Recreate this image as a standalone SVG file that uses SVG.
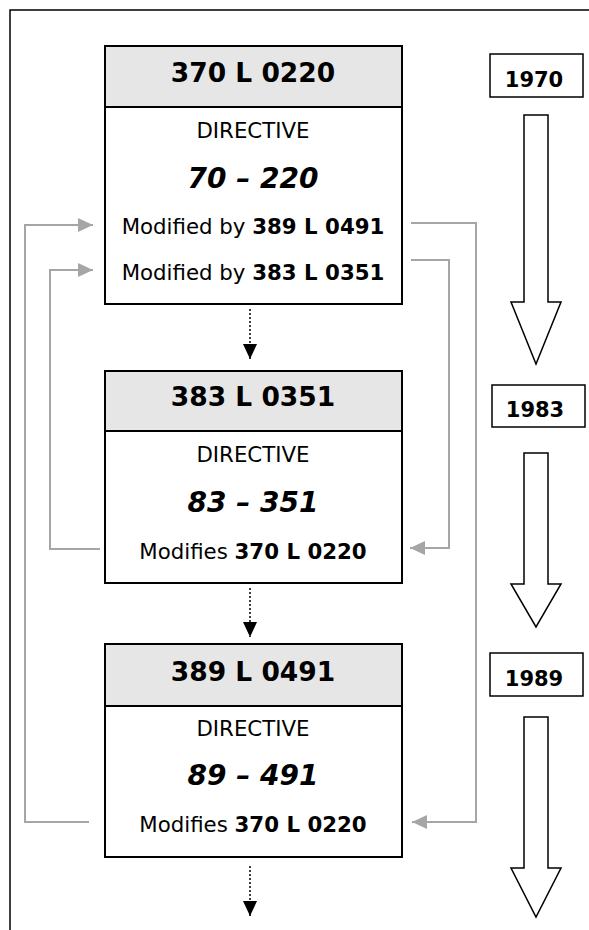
<svg xmlns="http://www.w3.org/2000/svg" width="589" height="930" viewBox="0 0 589 930">
<defs>
<style>
text{font-family:"DejaVu Sans","Verdana","Liberation Sans",sans-serif;fill:#000;text-anchor:middle}
.box{fill:#fff;stroke:#000;stroke-width:2}
.hdr{fill:#e6e6e6;stroke:#000;stroke-width:2}
.title{font-size:26.5px;font-weight:bold}
.lbl{font-size:21.3px}
.num{font-size:28px;font-weight:bold;font-style:italic}
.b{font-weight:bold}
.year{font-size:21px;font-weight:bold}
.ybox{fill:#fff;stroke:#000;stroke-width:1.5}
.blk{fill:#fff;stroke:#000;stroke-width:1.5;stroke-linejoin:miter}
.dot{fill:none;stroke:#000;stroke-width:1.5;stroke-dasharray:2 2;marker-end:url(#blackHead)}
.greyA{fill:none;stroke:#a6a6a6;stroke-width:2;marker-end:url(#greyHead)}
</style>
<marker id="blackHead" markerUnits="userSpaceOnUse" markerWidth="15" markerHeight="14" refX="15" refY="7" orient="auto" viewBox="0 0 15 14">
<path d="M0,0 L15,7 L0,14 z" fill="#000"/>
</marker>
<marker id="greyHead" markerUnits="userSpaceOnUse" markerWidth="15" markerHeight="14" refX="15" refY="7" orient="auto" viewBox="0 0 15 14">
<path d="M0,0 L15,7 L0,14 z" fill="#a6a6a6"/>
</marker>
</defs>
<rect width="589" height="930" fill="#fff"/>
<g id="frame">
<path d="M10,930 L10,10 L589,10" fill="none" stroke="#000" stroke-width="1.5"/>
</g>
<g id="connectors">
<path class="dot" d="M250,309 L250,359"/>
<path class="dot" d="M250,588 L250,637"/>
<path class="dot" d="M250,866 L250,916"/>
<path class="greyA" d="M411,223 L476,223 L476,822 L412,822"/>
<path class="greyA" d="M411,260 L449,260 L449,548 L410,548"/>
<path class="greyA" d="M89,822 L25,822 L25,225 L93,225"/>
<path class="greyA" d="M100,549 L50,549 L50,270 L93,270"/>
</g>
<g id="node-370L0220">
<rect class="box" x="105" y="46" width="297" height="258"/>
<rect class="hdr" x="105" y="46" width="297" height="61"/>
<text class="title" x="253" y="82">370 L 0220</text>
<text class="lbl" x="253" y="138">DIRECTIVE</text>
<text class="num" x="253" y="188">70 – 220</text>
<text class="lbl" x="253" y="234">Modified by <tspan class="b">389 L 0491</tspan></text>
<text class="lbl" x="253" y="280">Modified by <tspan class="b">383 L 0351</tspan></text>
</g>
<g id="node-383L0351">
<rect class="box" x="105" y="371" width="297" height="212"/>
<rect class="hdr" x="105" y="371" width="297" height="60"/>
<text class="title" x="253" y="406">383 L 0351</text>
<text class="lbl" x="253" y="462">DIRECTIVE</text>
<text class="num" x="253" y="512">83 – 351</text>
<text class="lbl" x="253" y="559">Modifies <tspan class="b">370 L 0220</tspan></text>
</g>
<g id="node-389L0491">
<rect class="box" x="105" y="644" width="297" height="213"/>
<rect class="hdr" x="105" y="644" width="297" height="62"/>
<text class="title" x="253" y="681">389 L 0491</text>
<text class="lbl" x="253" y="736">DIRECTIVE</text>
<text class="num" x="253" y="785">89 – 491</text>
<text class="lbl" x="253" y="832">Modifies <tspan class="b">370 L 0220</tspan></text>
</g>
<g id="timeline-1970">
<rect class="ybox" x="490" y="54" width="93" height="43"/>
<text class="year" x="534" y="87">1970</text>
<polygon class="blk" points="524,115 548,115 548,302 561,302 536,364 511,302 524,302"/>
</g>
<g id="timeline-1983">
<rect class="ybox" x="492" y="385" width="93" height="42"/>
<text class="year" x="535" y="417">1983</text>
<polygon class="blk" points="524,453 548,453 548,584 561,584 536,627 511,584 524,584"/>
</g>
<g id="timeline-1989">
<rect class="ybox" x="490" y="653" width="93" height="43"/>
<text class="year" x="534" y="686">1989</text>
<polygon class="blk" points="524,717 548,717 548,868 561,868 536,917 511,868 524,868"/>
</g>
</svg>
